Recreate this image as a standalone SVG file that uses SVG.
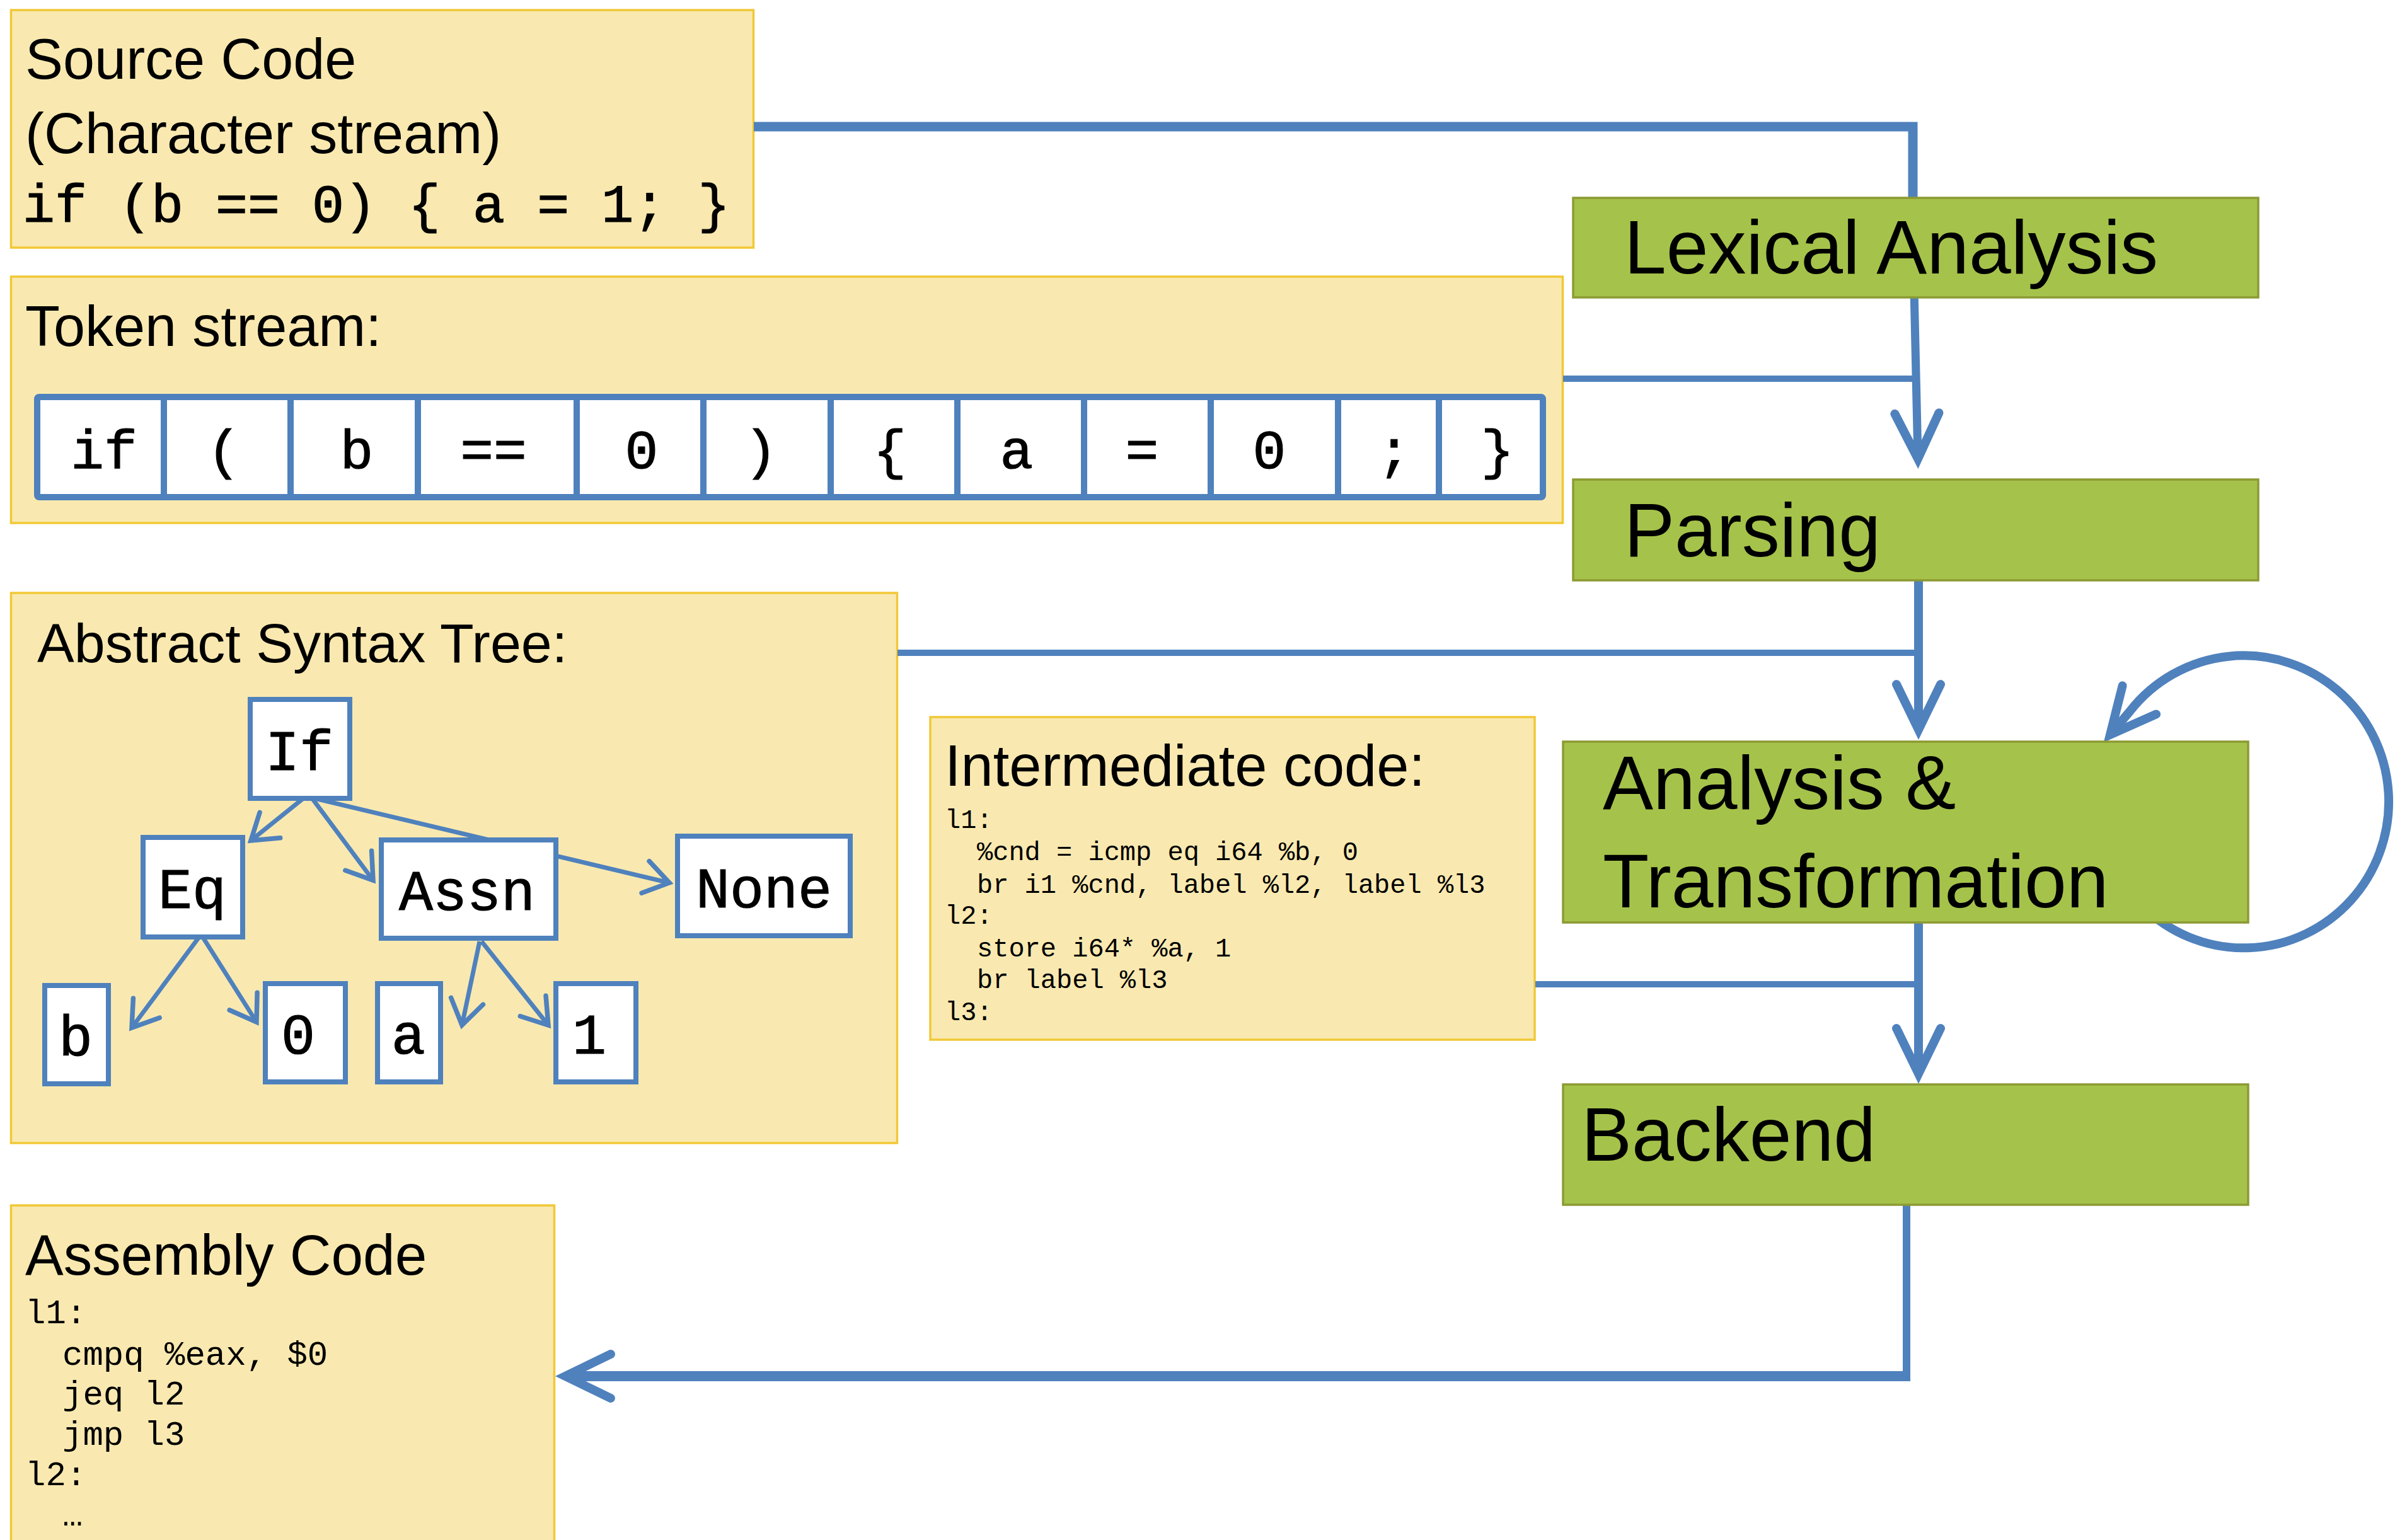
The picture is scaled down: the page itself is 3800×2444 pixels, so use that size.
<svg xmlns="http://www.w3.org/2000/svg" width="3800" height="2444" viewBox="0 0 3800 2444">
<defs>
<style>
.panel{fill:#F9E9B0;stroke:#F1C836;stroke-width:3.5}
.stage{fill:#A5C34A;stroke:#8C9A33;stroke-width:3.5}
.ast{fill:#FFFFFF;stroke:#4F81BD;stroke-width:8}
.title{font-family:"Liberation Sans",Arial,sans-serif;fill:#000}
.mono{font-family:"Liberation Mono","Courier New",monospace;fill:#000}
.mb{font-family:"Liberation Mono","Courier New",monospace;fill:#000;stroke:#000;stroke-width:1.2}
.flow{fill:none;stroke:#4F81BD;stroke-linejoin:miter}
.edge{fill:none;stroke:#4F81BD;stroke-width:7}
</style>
<marker id="bigArrow" markerUnits="userSpaceOnUse" viewBox="-100 -60 140 120" refX="0" refY="0" markerWidth="140" markerHeight="120" orient="auto" overflow="visible">
<path d="M -72 -35 L 0 0 L -72 35" fill="none" stroke="#4F81BD" stroke-width="14" stroke-linecap="round" stroke-linejoin="miter"/>
</marker>
<marker id="smallArrow" markerUnits="userSpaceOnUse" viewBox="-70 -50 100 100" refX="0" refY="0" markerWidth="100" markerHeight="100" orient="auto" overflow="visible">
<path d="M -39 -26 L 0 0 L -39 26" fill="none" stroke="#4F81BD" stroke-width="7.5" stroke-linecap="round" stroke-linejoin="miter"/>
</marker>
</defs>
<rect width="3800" height="2444" fill="#FFFFFF"/>

<g id="source-code">
<rect class="panel" x="17.5" y="16" width="1178" height="377"/>
<text class="title" x="40" y="125" font-size="90">Source Code</text>
<text class="title" x="40" y="243" font-size="90">(Character stream)</text>
<text class="mb" x="36" y="352" font-size="85">if (b == 0) { a = 1; }</text>
</g>

<g id="token-stream">
<rect class="panel" x="17.5" y="439" width="2462" height="391"/>
<text class="title" x="40" y="549" font-size="90">Token stream:</text>
<rect x="59" y="630" width="2389" height="159" rx="3" fill="#FFFFFF" stroke="#4F81BD" stroke-width="10"/>
<g stroke="#4F81BD" stroke-width="10">
<line x1="260" y1="630" x2="260" y2="789"/>
<line x1="461" y1="630" x2="461" y2="789"/>
<line x1="663" y1="630" x2="663" y2="789"/>
<line x1="915" y1="630" x2="915" y2="789"/>
<line x1="1116" y1="630" x2="1116" y2="789"/>
<line x1="1318" y1="630" x2="1318" y2="789"/>
<line x1="1519" y1="630" x2="1519" y2="789"/>
<line x1="1720" y1="630" x2="1720" y2="789"/>
<line x1="1921" y1="630" x2="1921" y2="789"/>
<line x1="2123" y1="630" x2="2123" y2="789"/>
<line x1="2283" y1="630" x2="2283" y2="789"/>
</g>
<g class="mb" font-size="88" text-anchor="middle">
<text x="165" y="743">if</text>
<text x="355" y="743">(</text>
<text x="566" y="743">b</text>
<text x="783" y="743">==</text>
<text x="1018" y="743">0</text>
<text x="1207" y="743">)</text>
<text x="1412" y="743">{</text>
<text x="1613" y="743">a</text>
<text x="1812" y="743">=</text>
<text x="2014" y="743">0</text>
<text x="2212" y="743">;</text>
<text x="2376" y="743">}</text>
</g>
</g>

<g id="ast-panel">
<rect class="panel" x="17.5" y="941" width="1406" height="873"/>
<text class="title" x="59" y="1051" font-size="88">Abstract Syntax Tree:</text>
</g>

<g id="intermediate-code">
<rect class="panel" x="1476" y="1138" width="959" height="512"/>
<text class="title" x="1499" y="1247" font-size="92">Intermediate code:</text>
<g class="mono" font-size="42">
<text x="1499" y="1314">l1:</text>
<text x="1550" y="1365">%cnd = icmp eq i64 %b, 0</text>
<text x="1550" y="1417">br i1 %cnd, label %l2, label %l3</text>
<text x="1499" y="1466">l2:</text>
<text x="1550" y="1518">store i64* %a, 1</text>
<text x="1550" y="1568">br label %l3</text>
<text x="1499" y="1619">l3:</text>
</g>
</g>

<g id="assembly-code">
<rect class="panel" x="17.5" y="1913" width="862" height="560"/>
<text class="title" x="40" y="2023" font-size="91">Assembly Code</text>
<g class="mono" font-size="54">
<text x="40" y="2100">l1:</text>
<text x="99" y="2166">cmpq %eax, $0</text>
<text x="99" y="2229">jeq l2</text>
<text x="99" y="2293">jmp l3</text>
<text x="40" y="2357">l2:</text>
<text x="99" y="2421">…</text>
</g>
</g>

<g id="connectors">
<path class="flow" d="M 1196 201 H 3035 V 330" stroke-width="15"/>
<path class="flow" d="M 2480 601 H 3040" stroke-width="10"/>
<path class="flow" d="M 3037 460 L 3043 728" stroke-width="13" marker-end="url(#bigArrow)"/>
<path class="flow" d="M 3044 910 V 1158" stroke-width="14" marker-end="url(#bigArrow)"/>
<path class="flow" d="M 1424 1036 H 3044" stroke-width="10"/>
<path class="flow" d="M 3044 1450 V 1704" stroke-width="14" marker-end="url(#bigArrow)"/>
<path class="flow" d="M 2436 1562 H 3044" stroke-width="10"/>
<path class="flow" d="M 3025 1905 V 2192" stroke-width="12"/>
<path class="flow" d="M 3031 2184 H 897" stroke-width="16" marker-end="url(#bigArrow)"/>
<path class="flow" d="M 3399 1438 A 230 232 0 1 0 3380 1128 L 3348 1166" stroke-width="14" marker-end="url(#bigArrow)"/>
<path class="edge" d="M 485 1264 L 398 1334" marker-end="url(#smallArrow)"/>
<path class="edge" d="M 493 1264 L 592 1397" marker-end="url(#smallArrow)"/>
<path class="edge" d="M 499 1267 L 1062 1401" marker-end="url(#smallArrow)"/>
<path class="edge" d="M 319 1483 L 209 1631" marker-end="url(#smallArrow)"/>
<path class="edge" d="M 319 1483 L 407 1622" marker-end="url(#smallArrow)"/>
<path class="edge" d="M 761 1494 L 733 1627" marker-end="url(#smallArrow)"/>
<path class="edge" d="M 764 1494 L 870 1627" marker-end="url(#smallArrow)"/>
</g>

<g id="lexical-analysis">
<rect class="stage" x="2496" y="314" width="1087" height="158"/>
<text class="title" x="2577" y="434" font-size="120">Lexical Analysis</text>
</g>
<g id="parsing">
<rect class="stage" x="2496" y="761" width="1087" height="160"/>
<text class="title" x="2577" y="883" font-size="120">Parsing</text>
</g>
<g id="analysis-transformation">
<rect class="stage" x="2480" y="1177" width="1087" height="287"/>
<text class="title" x="2543" y="1284" font-size="120">Analysis &amp;</text>
<text class="title" x="2543" y="1440" font-size="120">Transformation</text>
</g>
<g id="backend">
<rect class="stage" x="2480" y="1721" width="1087" height="191"/>
<text class="title" x="2509" y="1842" font-size="120">Backend</text>
</g>

<g id="ast-if">
<rect class="ast" x="397" y="1110" width="158" height="157"/>
<text class="mb" x="475" y="1222" font-size="90" text-anchor="middle">If</text>
</g>
<g id="ast-eq">
<rect class="ast" x="227" y="1329" width="158" height="158"/>
<text class="mb" x="305" y="1441" font-size="90" text-anchor="middle">Eq</text>
</g>
<g id="ast-assn">
<rect class="ast" x="605" y="1333" width="277" height="156"/>
<text class="mb" x="741" y="1444" font-size="90" text-anchor="middle">Assn</text>
</g>
<g id="ast-none">
<rect class="ast" x="1075" y="1327" width="274" height="158"/>
<text class="mb" x="1212" y="1440" font-size="90" text-anchor="middle">None</text>
</g>
<g id="ast-b">
<rect class="ast" x="71" y="1564" width="101" height="156"/>
<text class="mb" x="120" y="1675" font-size="90" text-anchor="middle">b</text>
</g>
<g id="ast-0">
<rect class="ast" x="421" y="1561" width="127" height="156"/>
<text class="mb" x="473" y="1672" font-size="90" text-anchor="middle">0</text>
</g>
<g id="ast-a">
<rect class="ast" x="599" y="1561" width="100" height="156"/>
<text class="mb" x="648" y="1672" font-size="90" text-anchor="middle">a</text>
</g>
<g id="ast-1">
<rect class="ast" x="882" y="1561" width="127" height="156"/>
<text class="mb" x="935" y="1672" font-size="90" text-anchor="middle">1</text>
</g>
</svg>
